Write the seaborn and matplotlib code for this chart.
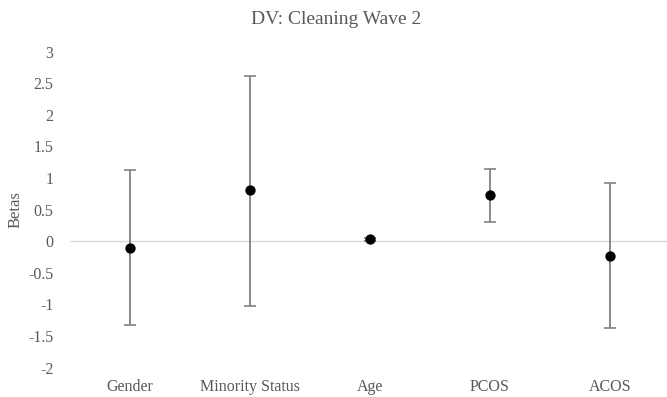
import matplotlib
matplotlib.use("Agg")
import matplotlib.pyplot as plt
import seaborn as sns
import pandas as pd
import numpy as np

categories = ["Gender", "Minority Status", "Age", "PCOS", "ACOS"]
betas = [-0.10, 0.81, 0.035, 0.73, -0.23]
upper = [1.13, 2.62, 0.06, 1.15, 0.92]
lower = [-1.32, -1.02, 0.01, 0.30, -1.37]
yticks = [3, 2.5, 2, 1.5, 1, 0.5, 0, -0.5, -1, -1.5, -2]

sns.set_theme(style="white")
plt.rcParams["font.family"] = ["Liberation Serif", "DejaVu Serif"]

df = pd.DataFrame({"cat": categories, "beta": betas, "lo": lower, "hi": upper})

fig = plt.figure(figsize=(6.67, 3.97), dpi=100)
ax = fig.add_axes([70 / 667, (397 - 367.7) / 397, 600 / 667, 316 / 397])

ax.axhline(0, color="#d9d9d9", lw=1.0, zorder=0)

xpos = np.arange(len(categories))
err = np.vstack([df["beta"] - df["lo"], df["hi"] - df["beta"]])
ax.errorbar(xpos, df["beta"], yerr=err, fmt="none", ecolor="#808080",
            elinewidth=1.3, capsize=4, capthick=1.2, zorder=1)
sns.scatterplot(data=df, x="cat", y="beta", ax=ax, color="black", s=55,
                edgecolor="black", linewidth=0, zorder=3, legend=False)

ax.set_xlim(-0.5, 4.5)
ax.set_ylim(-2, 3)
ax.set_yticks(yticks)
ax.set_yticklabels([f"{t:g}" for t in yticks])
ax.set_xticks(xpos)
ax.set_xticklabels(categories)
ax.tick_params(axis="both", length=0, labelsize=11.5, labelcolor="#595959")
ax.tick_params(axis="x", pad=8)
ax.tick_params(axis="y", pad=12)
for s in ax.spines.values():
    s.set_visible(False)
ax.set_xlabel("")
ax.set_ylabel("Betas", fontsize=12, color="#595959", labelpad=3)
ax.grid(False)
fig.text(336 / 667, 1 - 20 / 397, "DV: Cleaning Wave 2", ha="center", va="center",
         fontsize=14, color="#595959")

fig.savefig("out.png", dpi=100)
